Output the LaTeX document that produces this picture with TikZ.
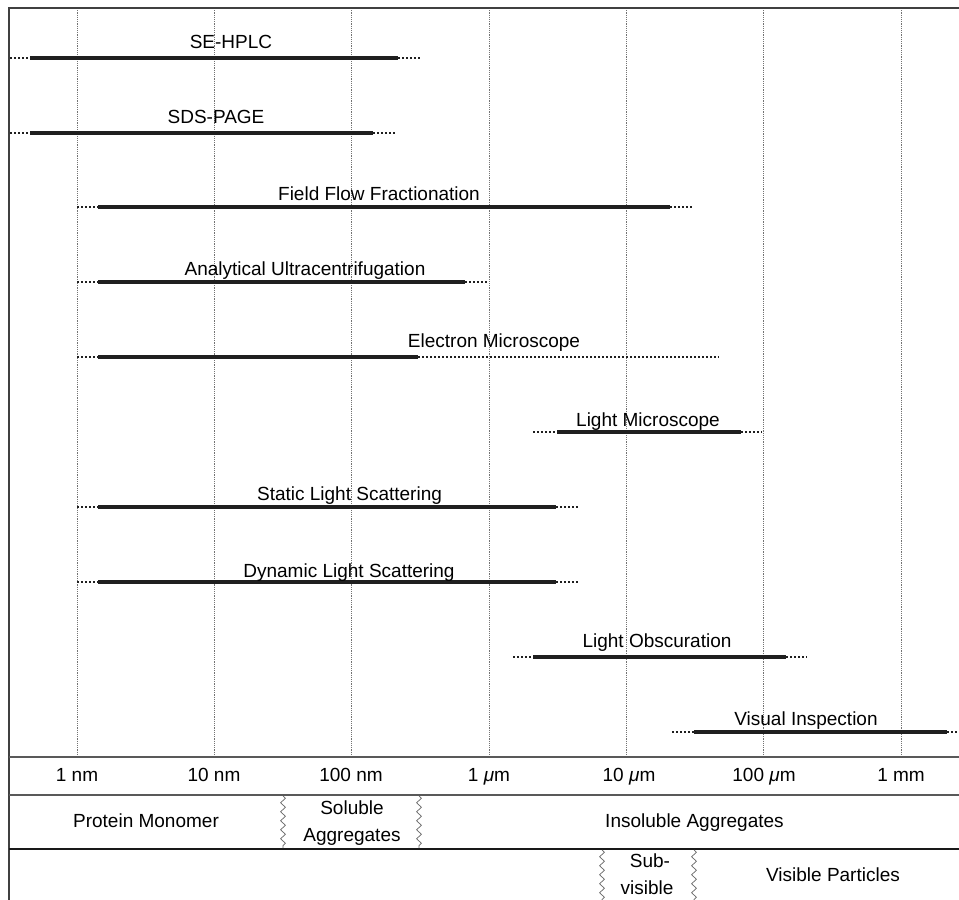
\documentclass[tikz,border=0pt]{standalone}
\usepackage{fontspec}
\setmainfont{Liberation Sans}
\usetikzlibrary{decorations.pathmorphing}
\tikzset{
  x=0.5pt, y=-0.5pt,
  grid/.style={draw=black!55, line width=0.45pt, dash pattern=on 0.6pt off 0.5pt},
  frameline/.style={draw=black!75, line width=0.6pt},
  axisline/.style={draw=black!65, line width=1pt},
  rowline/.style={draw=black!90, line width=0.7pt},
  solidline/.style={draw=black!88, line width=1.8pt},
  ext/.style={draw=black!88, line width=1.2pt, dash pattern=on 1.1pt off 0.9pt},
  lbl/.style={anchor=base, inner sep=0pt, font=\fontsize{9.5}{11}\selectfont},
  zz/.style={draw=black!60, line width=0.35pt, decorate,
             decoration={zigzag, segment length=4.5pt, amplitude=1.2pt}},
}
\newcommand\meth[9]{%
  \coordinate (#1-a) at (#3,#2);
  \coordinate (#1-b) at (#4,#2);
  \coordinate (#1-c) at (#5,#2);
  \coordinate (#1-d) at (#6,#2);
  \draw[ext] (#1-a) -- (#1-b);
  \draw[solidline] (#1-b) -- (#1-c);
  \draw[ext] (#1-c) -- (#1-d);
  \node[lbl] (#1-l) at (#8,#2-#9) {#7};
}
\begin{document}
\begin{tikzpicture}
\useasboundingbox[fill=white] (0,0) rectangle (959,900);
% grid lines
\foreach \k in {0,...,6} {
  \coordinate (g\k-t) at (77+137.33*\k,8);
  \coordinate (g\k-b) at (77+137.33*\k,757);
  \draw[grid] (g\k-t) -- (g\k-b);
}
% frame
\coordinate (tl) at (9,8);
\coordinate (tr) at (959,8);
\coordinate (bl) at (9,900);
\draw[frameline] (bl) -- (tl) -- (tr);
\coordinate (a1l) at (9,757);  \coordinate (a1r) at (959,757);
\coordinate (a2l) at (9,795);  \coordinate (a2r) at (959,795);
\coordinate (a3l) at (9,849);  \coordinate (a3r) at (959,849);
\draw[axisline] (a1l) -- (a1r);
\draw[axisline] (a2l) -- (a2r);
\draw[rowline] (a3l) -- (a3r);
% methods
\meth{se}{58}{10}{30}{398}{420}{SE-HPLC}{231}{10}
\meth{sds}{133}{10}{30}{373}{395}{SDS-PAGE}{216}{10}
\meth{fff}{207}{77}{98}{670}{692}{Field Flow Fractionation}{379}{7}
\meth{auc}{282}{77}{98}{465}{488}{Analytical Ultracentrifugation}{305}{7}
\meth{em}{357}{77}{98}{418}{719}{Electron Microscope}{494}{10}
\meth{lm}{432}{533}{557}{741}{762}{Light Microscope}{648}{6}
\meth{sls}{507}{77}{98}{556}{579}{Static Light Scattering}{349.5}{7}
\meth{dls}{582}{77}{98}{556}{579}{Dynamic Light Scattering}{349}{5}
\meth{lo}{657}{513}{533}{786}{807}{Light Obscuration}{657}{10}
\meth{vi}{732}{672}{694}{947}{959}{Visual Inspection}{806}{7}
% axis labels
\node[lbl] (t0) at (77,781) {1 nm};
\node[lbl] (t1) at (214,781) {10 nm};
\node[lbl] (t2) at (351,781) {100 nm};
\node[lbl] (t3) at (489,781) {1 \textit{μ}m};
\node[lbl] (t4) at (629,781) {10 \textit{μ}m};
\node[lbl] (t5) at (764,781) {100 \textit{μ}m};
\node[lbl] (t6) at (901,781) {1 mm};
% row 2
\node[lbl] (pm) at (146,827) {Protein Monomer};
\node[lbl] (sa1) at (352,814) {Soluble};
\node[lbl] (sa2) at (352,841) {Aggregates};
\node[lbl] (ia) at (694.5,827) {Insoluble Aggregates};
\coordinate (z1t) at (283,796); \coordinate (z1b) at (283,848);
\coordinate (z2t) at (419,796); \coordinate (z2b) at (419,848);
\draw[zz] (z1t) -- (z1b);
\draw[zz] (z2t) -- (z2b);
% row 3
\node[lbl] (sv1) at (650,867) {Sub-};
\node[lbl] (sv2) at (647,894) {visible};
\node[lbl] (vp) at (833,881) {Visible Particles};
\coordinate (z3t) at (602,850); \coordinate (z3b) at (602,900);
\coordinate (z4t) at (694,850); \coordinate (z4b) at (694,900);
\draw[zz] (z3t) -- (z3b);
\draw[zz] (z4t) -- (z4b);
\end{tikzpicture}
\end{document}
